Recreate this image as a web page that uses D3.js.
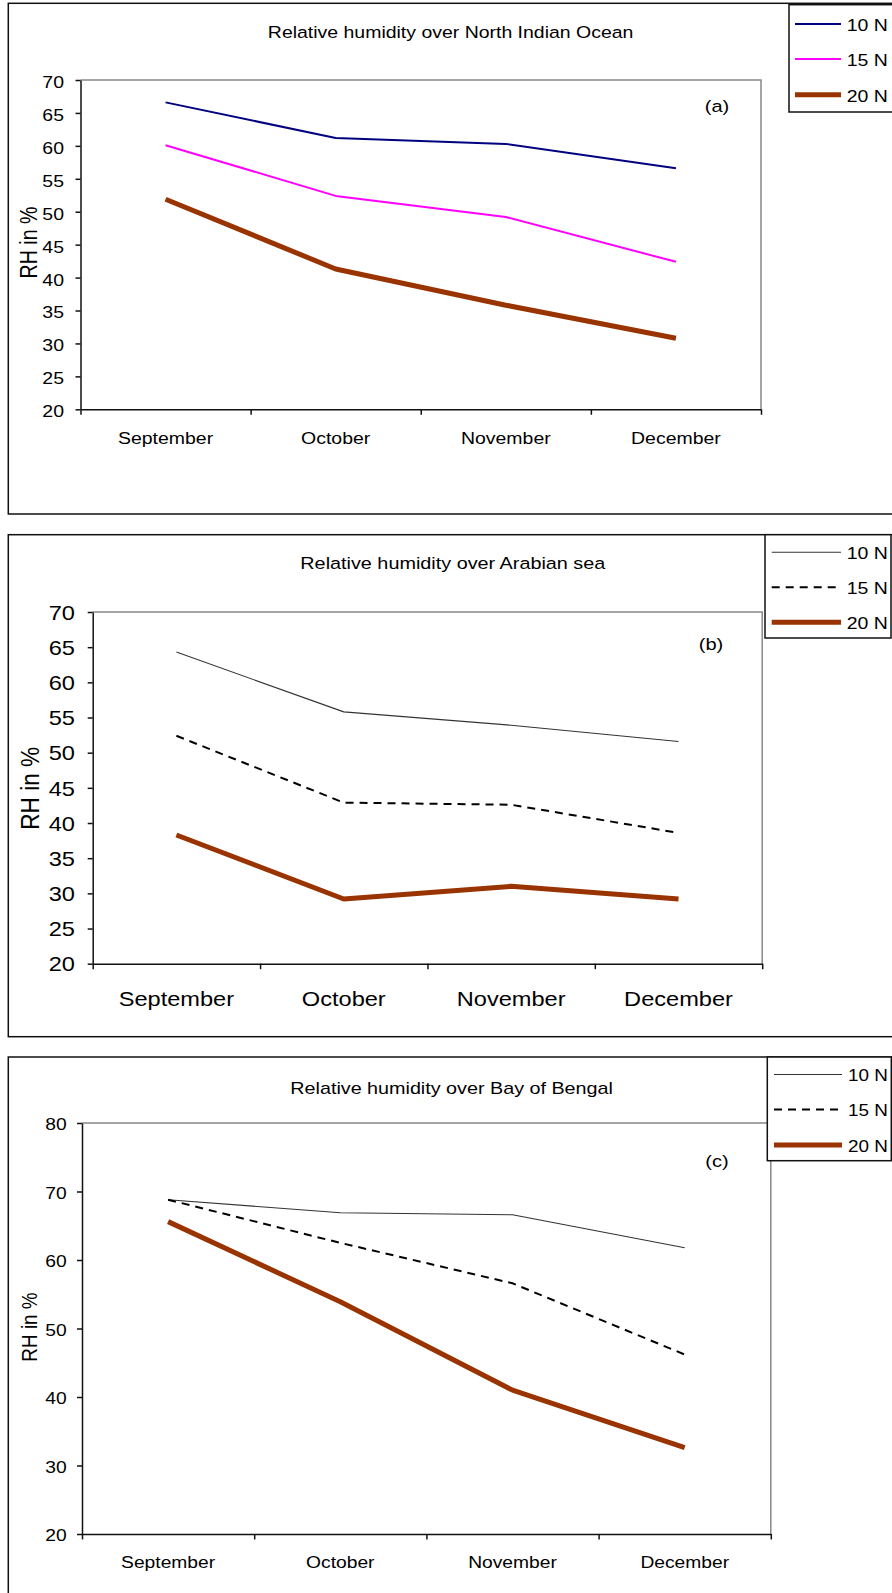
<!DOCTYPE html>
<html>
<head>
<meta charset="utf-8">
<script src="https://cdn.jsdelivr.net/npm/d3@7"></script>
<style>
  html, body { margin: 0; padding: 0; background: #fff; }
  svg { display: block; }
  text { font-family: "Liberation Sans", Arial, sans-serif; fill: #000; }
</style>
</head>
<body>
<svg id="chart" width="892" height="1593"></svg>
<script>
// ---- data ----
const MONTHS = ["September", "October", "November", "December"];
const SERIES = ["10 N", "15 N", "20 N"];

// North Indian Ocean
const NIO_10N = [66.6, 61.2, 60.3, 56.6];
const NIO_15N = [60.1, 52.4, 49.2, 42.4];
const NIO_20N = [51.9, 41.3, 35.8, 30.8];
// Arabian sea
const ARB_10N = [64.3, 55.8, 53.9, 51.6];
const ARB_15N = [52.4, 42.9, 42.6, 38.6];
const ARB_20N = [38.3, 29.2, 31.0, 29.2];
// Bay of Bengal
const BOB_10N = [68.8, 66.9, 66.6, 61.8];
const BOB_15N = [68.8, 62.5, 56.6, 46.2];
const BOB_20N = [65.6, 53.9, 41.0, 32.6];

const TICKS_NIO = [20, 25, 30, 35, 40, 45, 50, 55, 60, 65, 70];
const TICKS_ARB = [20, 25, 30, 35, 40, 45, 50, 55, 60, 65, 70];
const TICKS_BOB = [20, 30, 40, 50, 60, 70, 80];

const TITLES = [
  "Relative humidity over North Indian Ocean",
  "Relative humidity over Arabian sea",
  "Relative humidity over Bay of Bengal"
];
const TAGS = ["(a)", "(b)", "(c)"];
const Y_LABEL = "RH in %";

// ---- styling ----
const SX = 1.18; // horizontal glyph stretch
const BROWN = "#993300";
const styleColour = [
  { stroke: "#000080", width: 2, dash: null },
  { stroke: "#ff00ff", width: 2, dash: null },
  { stroke: BROWN, width: 5, dash: null }
];
const styleMono = [
  { stroke: "#333", width: 1.1, dash: null },
  { stroke: "#000", width: 2, dash: "8,6" },
  { stroke: BROWN, width: 5, dash: null }
];

const panels = [
  {
    title: TITLES[0], tag: TAGS[0], ticks: TICKS_NIO, styles: styleColour,
    values: [NIO_10N, NIO_15N, NIO_20N],
    box: { x: 8.3, y: 3.3, b: 514 },
    plot: { l: 80.5, r: 761, t: 80, b: 409.3 },
    font: 16.5, tickDy: "0.45em", yGap: 16.5, xBase: 34.5,
    title_: { x: 450.6, y: 38.2, size: 16.5 },
    ylab: { x: 37, y: 242.5, size: 19.6 },
    legend: { x: 789, y: 4.7, w: 110, h: 107.3, l1: 795, l2: 841, tx: 846.7, rows: [25, 60, 95.7], size: 16.5 },
    tagPos: { x: 717, y: 112 }
  },
  {
    title: TITLES[1], tag: TAGS[1], ticks: TICKS_ARB, styles: styleMono,
    values: [ARB_10N, ARB_15N, ARB_20N],
    box: { x: 8.3, y: 534.7, b: 1036.7 },
    plot: { l: 92.7, r: 762.2, t: 612, b: 963.7 },
    font: 20, tickDy: "0.36em", yGap: 17.7, xBase: 42.3,
    title_: { x: 452.8, y: 569.3, size: 16.8 },
    ylab: { x: 38.7, y: 788.3, size: 22.6 },
    legend: { x: 765, y: 534.7, w: 126, h: 103.3, l1: 771.7, l2: 841, tx: 846.7, rows: [553.3, 588.3, 623.3], size: 16.5 },
    tagPos: { x: 711, y: 650 }
  },
  {
    title: TITLES[2], tag: TAGS[2], ticks: TICKS_BOB, styles: styleMono,
    values: [BOB_10N, BOB_15N, BOB_20N],
    box: { x: 8.3, y: 1057, b: 1620 },
    plot: { l: 82, r: 770.8, t: 1123, b: 1534 },
    font: 16.3, tickDy: "0.42em", yGap: 15.3, xBase: 34.3,
    title_: { x: 451.6, y: 1093.6, size: 16.75 },
    ylab: { x: 37, y: 1327, size: 18.9 },
    legend: { x: 767.3, y: 1057, w: 124, h: 103.7, l1: 774, l2: 842, tx: 848, rows: [1075.5, 1110.6, 1146], size: 16 },
    tagPos: { x: 717, y: 1167 }
  }
];

const svg = d3.select("#chart");

// widen glyphs horizontally around each text's anchor point
function stretch(sel, sx) {
  sel.each(function () {
    const t = d3.select(this);
    const x = +t.attr("x") || 0, y = +t.attr("y") || 0;
    t.attr("x", null).attr("y", null)
     .attr("transform", `translate(${x},${y}) scale(${sx},1)`);
  });
}

panels.forEach(p => {
  const g = svg.append("g");

  // outer frame
  g.append("rect")
    .attr("x", p.box.x).attr("y", p.box.y)
    .attr("width", 920 - p.box.x).attr("height", p.box.b - p.box.y)
    .attr("fill", "#fff").attr("stroke", "#111").attr("stroke-width", 1.5);

  const x = d3.scaleBand().domain(MONTHS).range([p.plot.l, p.plot.r]);
  const xEdge = d3.scaleLinear().domain([0, MONTHS.length]).range([p.plot.l, p.plot.r]);
  const y = d3.scaleLinear().domain(d3.extent(p.ticks)).range([p.plot.b, p.plot.t]);

  // top / right plot border
  g.append("path")
    .attr("d", `M${p.plot.l},${p.plot.t}H${p.plot.r}V${p.plot.b}`)
    .attr("fill", "none").attr("stroke", "#888").attr("stroke-width", 1.5);

  // y axis
  const yAx = g.append("g")
    .attr("transform", `translate(${p.plot.l},0)`)
    .call(d3.axisLeft(y).tickValues(p.ticks).tickSize(5).tickSizeOuter(0)
      .tickPadding(p.yGap - 5).tickFormat(d3.format("d")));
  yAx.selectAll("path, line").attr("stroke", "#111").attr("stroke-width", 1.5);
  yAx.selectAll("text")
    .attr("font-size", p.font).attr("font-family", "Liberation Sans, Arial, sans-serif")
    .attr("dy", p.tickDy);
  stretch(yAx.selectAll("text"), SX);

  // x axis with ticks on category boundaries
  const xAx = g.append("g")
    .attr("transform", `translate(0,${p.plot.b})`)
    .call(d3.axisBottom(xEdge).tickValues(d3.range(MONTHS.length + 1))
      .tickSize(5.5).tickSizeOuter(0).tickFormat(""));
  xAx.selectAll("path, line").attr("stroke", "#111").attr("stroke-width", 1.5);

  // month labels
  const xl = g.append("g").selectAll("text").data(MONTHS).join("text")
    .attr("x", d => x(d) + x.bandwidth() / 2)
    .attr("y", p.plot.b + p.xBase)
    .attr("text-anchor", "middle")
    .attr("font-size", p.font)
    .text(d => d);
  stretch(xl, SX);

  // title
  const tt = g.append("text")
    .attr("x", p.title_.x).attr("y", p.title_.y)
    .attr("text-anchor", "middle").attr("font-size", p.title_.size)
    .text(p.title);
  stretch(tt, SX);

  // y label
  g.append("text")
    .attr("transform", `translate(${p.ylab.x},${p.ylab.y}) rotate(-90) scale(1,${SX})`)
    .attr("text-anchor", "middle").attr("font-size", p.ylab.size)
    .text(Y_LABEL);

  // series lines
  const line = d3.line()
    .x((d, i) => x(MONTHS[i]) + x.bandwidth() / 2)
    .y(d => y(d));
  const series = SERIES.map((name, i) => ({ name, values: p.values[i], style: p.styles[i] }));
  g.append("g").selectAll("path").data(series).join("path")
    .attr("d", d => line(d.values))
    .attr("fill", "none")
    .attr("stroke", d => d.style.stroke)
    .attr("stroke-width", d => d.style.width)
    .attr("stroke-dasharray", d => d.style.dash)
    .attr("stroke-linejoin", "round");

  // panel tag
  const tg = g.append("text")
    .attr("x", p.tagPos.x).attr("y", p.tagPos.y)
    .attr("text-anchor", "middle")
    .attr("font-family", "Liberation Serif, Times New Roman, serif")
    .attr("font-size", 17)
    .text(p.tag);
  stretch(tg, SX);

  // legend
  const L = p.legend;
  const lg = g.append("g");
  lg.append("rect")
    .attr("x", L.x).attr("y", L.y).attr("width", L.w).attr("height", L.h)
    .attr("fill", "#fff").attr("stroke", "#111").attr("stroke-width", 1.5);
  const items = lg.selectAll("g.item").data(series).join("g").attr("class", "item");
  items.append("line")
    .attr("x1", L.l1).attr("x2", L.l2)
    .attr("y1", (d, i) => L.rows[i] - 1).attr("y2", (d, i) => L.rows[i] - 1)
    .attr("stroke", d => d.style.stroke)
    .attr("stroke-width", d => d.style.width)
    .attr("stroke-dasharray", d => d.style.dash);
  const lt = items.append("text")
    .attr("x", L.tx).attr("y", (d, i) => L.rows[i] + 0.358 * L.size)
    .attr("font-size", L.size)
    .text(d => d.name);
  stretch(lt, SX);
});
</script>
</body>
</html>
